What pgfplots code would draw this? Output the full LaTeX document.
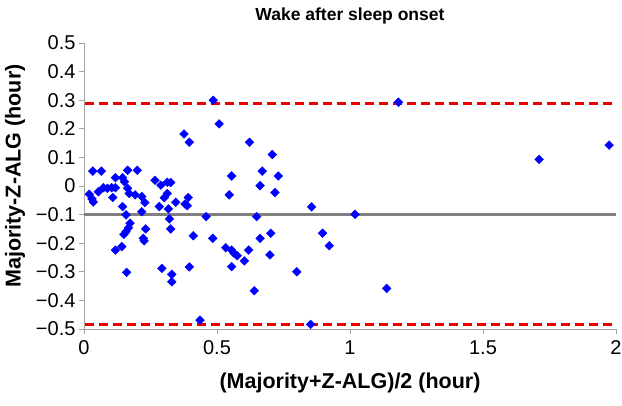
\documentclass[border=0pt]{standalone}
\usepackage{fontspec}
\setmainfont{Liberation Sans}
\usepackage{pgfplots}
\pgfplotsset{compat=1.18}
\definecolor{meangray}{RGB}{128,128,128}
\definecolor{axgray}{RGB}{165,165,165}
\definecolor{ptblue}{RGB}{0,0,255}
\definecolor{loared}{RGB}{235,0,0}
\begin{document}
\begin{tikzpicture}
\begin{axis}[
  at={(0,0)}, anchor=south west,
  scale only axis, width=532pt, height=286pt,
  xmin=0, xmax=2, ymin=-0.5, ymax=0.5,
  axis x line*=bottom, axis y line*=left,
  axis line style={axgray, line width=0.8pt},
  tick style={axgray, line width=0.8pt},
  tick align=outside, major tick length=5pt,
  xtick={0,0.5,1,1.5,2},
  xticklabels={0,0.5,1,1.5,2},
  ytick={-0.5,-0.4,-0.3,-0.2,-0.1,0,0.1,0.2,0.3,0.4,0.5},
  yticklabels={{−0.5},{−0.4},{−0.3},{−0.2},{−0.1},{0},{0.1},{0.2},{0.3},{0.4},{0.5}},
  ticklabel style={font=\fontsize{20}{22}\selectfont, text=black},
  xticklabel style={yshift=-3pt},
  clip=false,
  title={Wake after sleep onset},
  title style={at={(0.5,1)}, anchor=center, yshift=21pt, font=\bfseries\fontsize{17.5}{19}\selectfont},
  xlabel={(Majority+Z-ALG)/2 (hour)},
  xlabel style={at={(0.5,0)}, anchor=center, yshift=-54pt, font=\bfseries\fontsize{21.5}{23}\selectfont},
  ylabel={Majority-Z-ALG (hour)},
  ylabel style={at={(0,0.5)}, anchor=center, yshift=69pt, xshift=10pt, font=\bfseries\fontsize{21.5}{23}\selectfont},
]
\addplot[meangray, line width=3pt, forget plot] coordinates {(0,-0.099) (2,-0.099)};
\addplot[loared, line width=3pt, dash pattern=on 9pt off 5pt, forget plot] coordinates {(0.005,0.287) (1.985,0.287)};
\addplot[loared, line width=3pt, dash pattern=on 9pt off 5pt, forget plot] coordinates {(0.005,-0.486) (1.985,-0.486)};
\addplot[only marks, mark=square*, mark size=3.1pt, mark options={rotate=45, fill=ptblue, draw=ptblue}] table {
x y
0.033 0.052
0.065 0.052
0.164 0.055
0.200 0.055
0.118 0.029
0.145 0.029
0.152 0.015
0.020 -0.029
0.030 -0.045
0.035 -0.056
0.054 -0.020
0.073 -0.006
0.088 -0.008
0.104 -0.006
0.118 -0.006
0.108 -0.040
0.164 -0.008
0.170 -0.026
0.192 -0.031
0.217 -0.037
0.229 -0.058
0.145 -0.072
0.158 -0.101
0.217 -0.090
0.173 -0.130
0.167 -0.146
0.158 -0.160
0.150 -0.169
0.232 -0.150
0.223 -0.183
0.226 -0.192
0.142 -0.212
0.118 -0.224
0.160 -0.302
0.267 0.020
0.289 0.003
0.313 0.013
0.326 0.012
0.313 -0.026
0.302 -0.041
0.283 -0.072
0.317 -0.080
0.345 -0.057
0.321 -0.115
0.326 -0.150
0.392 -0.040
0.380 -0.063
0.388 -0.069
0.411 -0.174
0.396 -0.283
0.293 -0.288
0.330 -0.309
0.330 -0.335
0.396 0.153
0.376 0.182
0.459 -0.107
0.484 -0.183
0.555 0.035
0.546 -0.031
0.533 -0.216
0.555 -0.224
0.564 -0.235
0.576 -0.244
0.603 -0.262
0.555 -0.282
0.619 -0.224
0.622 0.153
0.649 -0.107
0.662 0.001
0.670 0.052
0.708 0.110
0.718 -0.023
0.730 0.035
0.662 -0.183
0.702 -0.165
0.699 -0.241
0.486 0.300
0.508 0.217
0.856 -0.073
1.019 -0.099
1.182 0.293
0.897 -0.165
0.922 -0.209
0.800 -0.300
0.640 -0.366
1.138 -0.358
0.852 -0.484
1.711 0.093
1.974 0.143
0.436 -0.469
};
\end{axis}
\pgfresetboundingbox
\path[use as bounding box] (-84pt,-76pt) rectangle (538pt,329pt);
\end{tikzpicture}
\end{document}
